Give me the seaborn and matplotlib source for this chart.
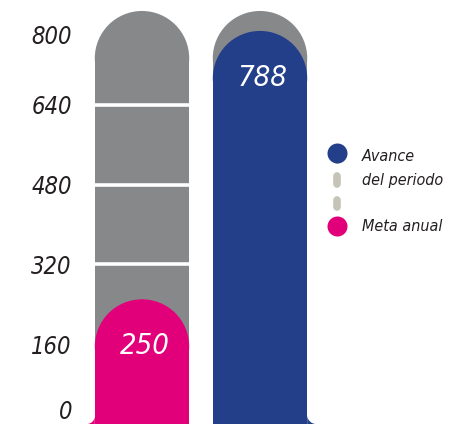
import matplotlib
matplotlib.use("Agg")
import matplotlib.pyplot as plt
import seaborn as sns
import numpy as np
from matplotlib.patches import Ellipse, Polygon

# ---- data ----
categorias = ["Meta anual", "Avance del periodo"]
valores = [250, 788]
etiquetas_valor = ["250", "788"]
escala_max = 828
ticks = [0, 160, 320, 480, 640, 800]
tick_labels = ["0", "160", "320", "480", "640", "800"]
lineas_guia = [320, 480, 640]
leyenda_lineas = ["Avance", "del periodo", "Meta anual"]

# ---- style ----
GRIS = "#87888a"
AZUL = "#233f8a"
ROSA = "#e2007a"
TEXTO = "#231f20"
GUION = "#c6c4b6"
FONT = ["DejaVu Sans"]
STRETCH = "condensed"

sns.set_style("white")
plt.rcParams["font.family"] = FONT

W, H = 449, 424
fig = plt.figure(figsize=(W / 100, H / 100), dpi=100)
ax_left_px = 80
ax = fig.add_axes([ax_left_px / W, 0, (W - ax_left_px) / W, 1])

x_lo = -(142 - ax_left_px) / 118
x_hi = x_lo + (W - ax_left_px) / 118
ylim = (0, 850)
bar_w = 0.8

px_per_x = (W - ax_left_px) / (x_hi - x_lo)
px_per_y = H / (ylim[1] - ylim[0])
r_y = (bar_w / 2) * px_per_x / px_per_y

# background gray bars
sns.barplot(x=categorias, y=[escala_max - r_y] * len(categorias), color=GRIS,
            width=bar_w, linewidth=0, saturation=1, ax=ax, zorder=1)
for i in range(len(categorias)):
    ax.add_patch(Ellipse((i, escala_max - r_y), bar_w, 2 * r_y, color=GRIS, lw=0, zorder=1))

# white guide lines
for g in lineas_guia:
    ax.axhline(g, color="white", lw=2.6, zorder=2)

# value bars
sns.barplot(x=categorias, y=[v - r_y for v in valores], hue=categorias,
            palette=[ROSA, AZUL], width=bar_w, linewidth=0, saturation=1,
            legend=False, ax=ax, zorder=3)
for i, (v, c, t) in enumerate(zip(valores, [ROSA, AZUL], etiquetas_valor)):
    ax.add_patch(Ellipse((i, v - r_y), bar_w, 2 * r_y, color=c, lw=0, zorder=3))
    ax.text(i + 0.02, v - r_y, t, color="white", fontsize=21, style="italic",
            fontstretch=STRETCH, ha="center", va="center", zorder=5, family=FONT)

# small concave fillets at the foot of the coloured bars
for i, (c, side, rpx) in enumerate([(ROSA, -1, 8), (AZUL, 1, 9)]):
    edge = i + side * bar_w / 2
    rx, ry = rpx / px_per_x, rpx / px_per_y
    cx, cy = edge + side * rx, ry
    ang = np.linspace(0, np.pi / 2, 20)
    arc = [(cx - side * rx * np.cos(a), cy - ry * np.sin(a)) for a in ang]
    ax.add_patch(Polygon([(edge, 0)] + arc, closed=True, color=c, lw=0, zorder=3))

ax.set_xlim(x_lo, x_hi)
ax.set_ylim(*ylim)
ax.set_yticks(ticks)
ax.set_yticklabels(tick_labels, fontsize=17, style="italic", color=TEXTO,
                   family=FONT, fontstretch=STRETCH)
ax.tick_params(axis="y", length=0, pad=5.8)
ax.set_xticks([])
ax.set_xlabel("")
ax.set_ylabel("")
for s in ax.spines.values():
    s.set_visible(False)
lbls = ax.get_yticklabels()
lbls[0].set_va("bottom")
lbls[-1].set_va("top")

# legend (pixel layout converted to figure fraction)
def fx(px):
    return px / W
def fy(py):
    return 1 - py / H

for y0, y1 in [(153, 160), (176, 184), (200, 207)]:
    fig.add_artist(plt.Line2D([fx(337), fx(337)], [fy(y0), fy(y1)], color=GUION,
                              lw=5.5, solid_capstyle="round", zorder=6))
for yc, c in [(153, AZUL), (226, ROSA)]:
    fig.add_artist(plt.Line2D([fx(337)], [fy(yc)], marker="o", ms=14.4, color=c,
                              mew=0, zorder=7))
for txt, base in zip(leyenda_lineas, [161, 185, 231]):
    fig.text(fx(362), fy(base), txt, fontsize=11.5, style="italic", color=TEXTO,
             fontstretch=STRETCH, ha="left", va="baseline", family=FONT)

fig.savefig("out.png", dpi=100)
